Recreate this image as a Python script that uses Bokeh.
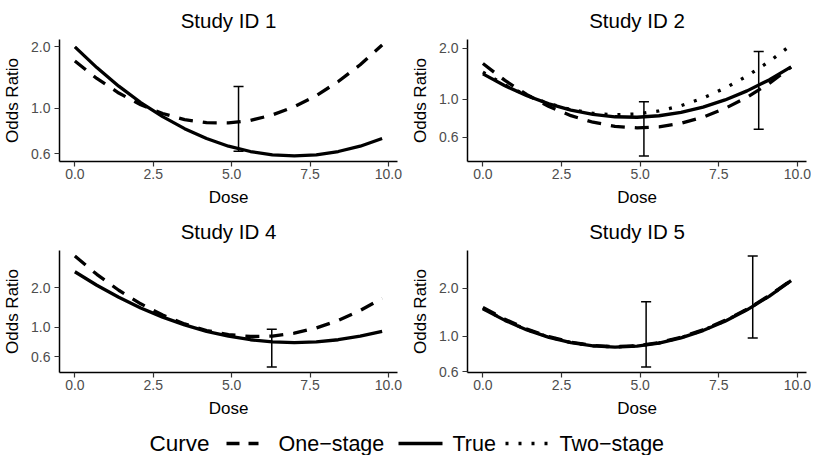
import math
from bokeh.plotting import figure
from bokeh.models import Range1d, FixedTicker, PrintfTickFormatter
from bokeh.layouts import column, row
from bokeh.core.properties import value
from bokeh.embed import file_html
from bokeh.resources import INLINE

# ---------------- data ----------------
dose = [0.0, 0.7, 1.4, 2.1, 2.8, 3.5, 4.2, 4.9, 5.6, 6.3, 7.0, 7.7, 8.4, 9.1, 9.8]

s1_true = [2.000, 1.584, 1.285, 1.069, 0.912, 0.797, 0.713, 0.654, 0.616, 0.593, 0.586, 0.593, 0.616, 0.654, 0.713]
s1_one = [1.706, 1.402, 1.190, 1.043, 0.945, 0.882, 0.852, 0.850, 0.874, 0.930, 1.020, 1.156, 1.354, 1.636, 2.042]

s2_true = [1.413, 1.203, 1.051, 0.942, 0.867, 0.818, 0.792, 0.787, 0.803, 0.840, 0.902, 0.994, 1.123, 1.302, 1.551]
s2_one = [1.623, 1.293, 1.066, 0.910, 0.804, 0.736, 0.696, 0.682, 0.691, 0.725, 0.788, 0.886, 1.030, 1.241, 1.546]
s2_two = [1.445, 1.216, 1.057, 0.946, 0.872, 0.829, 0.813, 0.822, 0.857, 0.920, 1.020, 1.165, 1.372, 1.665, 2.083]

s4_true = [2.646, 2.090, 1.692, 1.405, 1.196, 1.044, 0.933, 0.856, 0.805, 0.775, 0.766, 0.775, 0.805, 0.856, 0.933]
s4_one = [3.483, 2.529, 1.914, 1.510, 1.240, 1.062, 0.946, 0.880, 0.852, 0.859, 0.903, 0.989, 1.129, 1.342, 1.662]

s5_true = [1.490, 1.260, 1.098, 0.986, 0.913, 0.871, 0.857, 0.869, 0.908, 0.978, 1.087, 1.244, 1.467, 1.784, 2.236]
s5_one = [1.520, 1.280, 1.110, 0.995, 0.920, 0.877, 0.862, 0.874, 0.915, 0.988, 1.100, 1.260, 1.480, 1.800, 2.250]
s5_two = [1.500, 1.265, 1.100, 0.990, 0.915, 0.873, 0.858, 0.871, 0.910, 0.982, 1.092, 1.250, 1.475, 1.790, 2.240]

# error bars (observed data points)
s1_eb_x = [5.22]
s1_eb_lo = [0.618]
s1_eb_hi = [1.28]
s2_eb_x = [5.12, 8.77]
s2_eb_lo = [0.467, 0.670]
s2_eb_hi = [0.970, 1.910]
s4_eb_x = [6.28]
s4_eb_lo = [0.500]
s4_eb_hi = [0.966]
s5_eb_x = [5.19, 8.58]
s5_eb_lo = [0.643, 0.976]
s5_eb_hi = [1.650, 3.190]

x_ticks = [0.0, 2.5, 5.0, 7.5, 10.0]
y_ticks = [0.6, 1.0, 2.0]

legend_labels = ["One\u2212stage", "True", "Two\u2212stage"]
legend_title = "Curve"

# ---------------- styling ----------------
FONT = "Liberation Sans"
DASH = {"One\u2212stage": "14 10", "True": "solid", "Two\u2212stage": "3 10"}
LW = 3.3
EB_HALF = 0.16


def panel(title, curves, eb_x, eb_lo, eb_hi, width, left, right, height, top, bottom):
    ally = [v for _, ys in curves for v in ys] + eb_lo + eb_hi
    lo, hi = math.log(min(ally)), math.log(max(ally))
    ex = 0.05 * (hi - lo)
    xlo, xhi = min(dose), max(dose)
    xe = 0.05 * (xhi - xlo)
    p = figure(width=width, height=height,
               x_range=Range1d(xlo - xe, xhi + xe),
               y_range=Range1d(math.exp(lo - ex), math.exp(hi + ex)),
               y_axis_type="log", output_backend="svg", toolbar_location=None,
               min_border_left=left, min_border_right=right,
               min_border_top=top, min_border_bottom=bottom, title=title)
    p.title.align = "center"
    p.title.vertical_align = "top"
    p.title.text_font = FONT
    p.title.text_font_size = "20.5px"
    p.title.text_font_style = "normal"
    p.title.text_color = "black"
    p.title.standoff = 12
    p.outline_line_color = None
    p.xgrid.visible = False
    p.ygrid.visible = False

    for name, ys in curves:
        p.line(dose, ys, line_width=LW, line_color="black", line_dash=DASH[name])

    x0 = [x - EB_HALF for x in eb_x]
    x1 = [x + EB_HALF for x in eb_x]
    p.segment(eb_x, eb_lo, eb_x, eb_hi, line_color="black", line_width=1.5)
    p.segment(x0, eb_lo, x1, eb_lo, line_color="black", line_width=1.5)
    p.segment(x0, eb_hi, x1, eb_hi, line_color="black", line_width=1.5)

    p.xaxis.ticker = FixedTicker(ticks=x_ticks)
    p.xaxis.formatter = PrintfTickFormatter(format="%.1f")
    p.yaxis.ticker = FixedTicker(ticks=y_ticks)
    p.yaxis.formatter = PrintfTickFormatter(format="%.1f")
    p.xaxis.axis_label = "Dose"
    p.yaxis.axis_label = "Odds Ratio"
    for ax in (p.xaxis[0], p.yaxis[0]):
        ax.axis_line_color = "black"
        ax.axis_line_width = 1.5
        ax.major_tick_line_color = "#333333"
        ax.major_tick_line_width = 1.2
        ax.major_tick_out = 5
        ax.major_tick_in = 0
        ax.minor_tick_line_color = None
        ax.major_label_text_font = FONT
        ax.major_label_text_font_size = "14px"
        ax.major_label_text_color = "#4D4D4D"
        ax.axis_label_text_font = FONT
        ax.axis_label_text_font_size = "17px"
        ax.axis_label_text_font_style = "normal"
        ax.axis_label_text_color = "black"
        ax.axis_label_standoff = 6
    p.xaxis[0].major_label_standoff = 2
    p.yaxis[0].major_label_standoff = 4
    return p


p1 = panel("Study ID 1", [("One\u2212stage", s1_one), ("True", s1_true)],
           s1_eb_x, s1_eb_lo, s1_eb_hi, 408, 59, 11, 211, 39, 50)
p2 = panel("Study ID 2", [("One\u2212stage", s2_one), ("True", s2_true), ("Two\u2212stage", s2_two)],
           s2_eb_x, s2_eb_lo, s2_eb_hi, 403, 59, 5, 211, 39, 50)
p4 = panel("Study ID 4", [("One\u2212stage", s4_one), ("True", s4_true)],
           s4_eb_x, s4_eb_lo, s4_eb_hi, 408, 59, 11, 210, 39, 49)
p5 = panel("Study ID 5", [("One\u2212stage", s5_one), ("True", s5_true), ("Two\u2212stage", s5_two)],
           s5_eb_x, s5_eb_lo, s5_eb_hi, 403, 59, 5, 210, 39, 49)

# ---------------- legend ----------------
LW_TOTAL = 811
LH = 34
leg = figure(width=LW_TOTAL, height=LH, x_range=Range1d(0, LW_TOTAL), y_range=Range1d(0, LH),
             x_axis_location=None, y_axis_location=None, output_backend="svg",
             toolbar_location=None, min_border=0)
leg.outline_line_color = None
leg.xgrid.visible = False
leg.ygrid.visible = False
yc = 12
leg.text(x=[149], y=[yc], text=[legend_title],
         text_font=value(FONT), text_font_size=value("22.5px"), text_color="black",
         text_align="left", text_baseline="middle")
leg.text(x=[278, 452, 559], y=[yc] * 3, text=legend_labels,
         text_font=value(FONT), text_font_size=value("21.5px"), text_color="black",
         text_align="left", text_baseline="middle")
key_x = [(226, 258), (398, 442), (505, 549)]
key_dash = {"One\u2212stage": "13 9", "True": "solid", "Two\u2212stage": "3 10"}
for (a, b), name in zip(key_x, legend_labels):
    leg.line([a, b], [yc, yc], line_width=LW, line_color="black", line_dash=key_dash[name])

layout = column(row(p1, p2), row(p4, p5), leg)
open("out.html", "w").write(file_html(layout, INLINE))
